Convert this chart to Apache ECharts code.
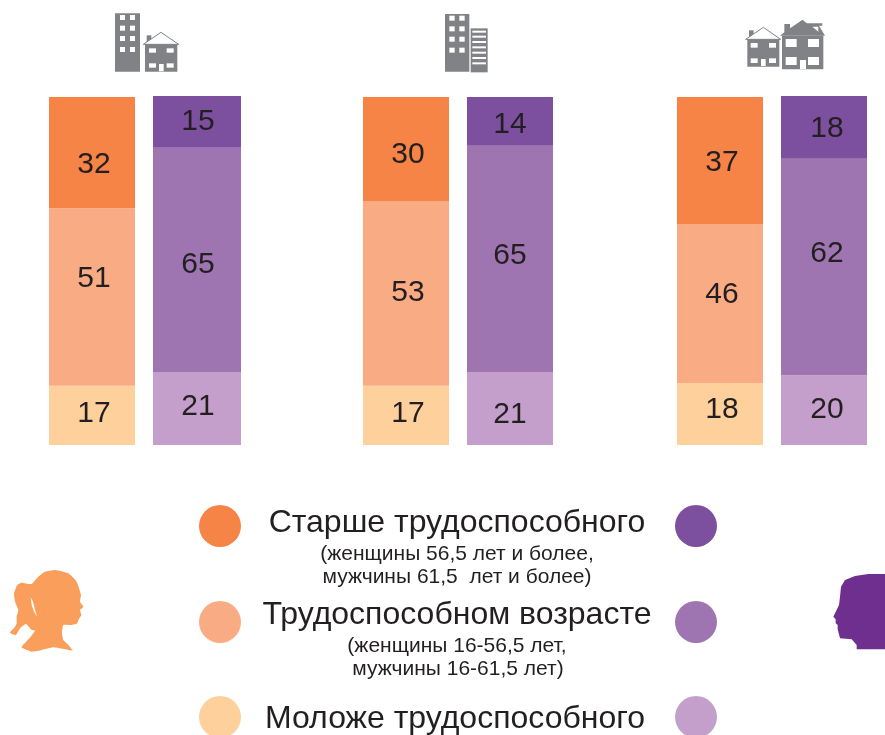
<!DOCTYPE html>
<html>
<head>
<meta charset="utf-8">
<style>
  html, body { margin: 0; padding: 0; background: #fff; overflow: hidden; }
  #chart { width: 885px; height: 735px; }
</style>
</head>
<body>
<div id="chart"></div>
<script src="https://cdn.jsdelivr.net/npm/echarts@6/dist/echarts.min.js"></script>
<script>
// order of each bar: bottom to top
var ageGroups = ["Моложе трудоспособного", "Трудоспособном возрасте", "Старше трудоспособного"];
var women1 = [17, 51, 32];
var men1 = [21, 65, 15];
var women2 = [17, 53, 30];
var men2 = [21, 65, 14];
var women3 = [18, 46, 37];
var men3 = [20, 62, 18];

var legendNotes = {
  older: ["(женщины 56,5 лет и более,", "мужчины 61,5  лет и более)"],
  working: ["(женщины 16-56,5 лет,", "мужчины 16-61,5 лет)"]
};

var orange = ["#FDD09C", "#F9AB84", "#F68446"];
var purple = ["#C59FCB", "#9E75B1", "#7D4F9F"];
var grey = "#808285";
var font = "Liberation Sans";

// bars do not share one axis: every bar fills its own total
// the labels in the source are placed by hand, hence the shifts
var bars = [
  { values: women1, colors: orange, left: 49, width: 86, top: 97, dx: 2, labelShift: [-2, -18, 12] },
  { values: men1, colors: purple, left: 153, width: 88, top: 96, dx: 1, labelShift: [-2, 5, 0] },
  { values: women2, colors: orange, left: 363, width: 86, top: 97, dx: 2, labelShift: [-2, -1, 6] },
  { values: men2, colors: purple, left: 467, width: 86, top: 97, dx: 0, labelShift: [6, -3, 3] },
  { values: women3, colors: orange, left: 677, width: 86, top: 97, dx: 2, labelShift: [-4, -9, 2] },
  { values: men3, colors: purple, left: 781, width: 86, top: 96, dx: 3, labelShift: [0, -13, 1] }
];

var grids = [], xAxes = [], yAxes = [], series = [];
bars.forEach(function (bar, i) {
  grids.push({ left: bar.left, top: bar.top, width: bar.width, height: 445 - bar.top });
  xAxes.push({ gridIndex: i, type: "category", data: [""], show: false });
  yAxes.push({
    gridIndex: i,
    type: "value",
    min: 0,
    max: bar.values[0] + bar.values[1] + bar.values[2],
    show: false
  });
  bar.values.forEach(function (v, j) {
    series.push({
      name: ageGroups[j],
      type: "bar",
      stack: "b" + i,
      xAxisIndex: i,
      yAxisIndex: i,
      barWidth: "100%",
      silent: true,
      data: [v],
      itemStyle: { color: bar.colors[j] },
      label: {
        show: true,
        position: "inside",
        offset: [bar.dx, bar.labelShift[j]],
        color: "#231F20",
        fontFamily: font,
        fontSize: 30
      }
    });
  });
});

function box(ox, oy, x0, y0, x1, y1, color) {
  return {
    type: "rect",
    shape: { x: ox + x0 / 3, y: oy + y0 / 3, width: (x1 - x0) / 3, height: (y1 - y0) / 3 },
    style: { fill: color }
  };
}
function poly(ox, oy, pts, color, stroke, smooth) {
  return {
    type: "polygon",
    shape: { points: pts.map(function (p) { return [ox + p[0] / 3, oy + p[1] / 3]; }), smooth: smooth || 0 },
    style: { fill: color, stroke: stroke || null, lineWidth: stroke ? 1 : 0 }
  };
}
function windows(ox, oy, xs, ys, w, h) {
  var out = [];
  xs.forEach(function (x) {
    ys.forEach(function (y) { out.push(box(ox, oy, x, y, x + w, y + h, "#fff")); });
  });
  return out;
}
function house(ox, oy, x0, x1, top, bottom, apexX, apexY, chim) {
  return [
    box(ox, oy, chim, apexY + 9, chim + 14, top, grey),
    poly(ox, oy, [[x0 - 5, top], [apexX, apexY], [x1 + 4, top]], "#fff", grey),
    box(ox, oy, x0, top, x1, bottom, grey)
  ];
}

var els = [];
// first icon
els.push(box(100, 0, 45, 40, 120, 215, grey));
els = els.concat(windows(100, 0, [60, 90], [45, 77, 108, 141], 15, 15));
els = els.concat(house(100, 0, 135, 232, 133, 215, 183, 97, 140));
els = els.concat(windows(100, 0, [147, 200], [145, 190], 21, 13));
els.push(box(100, 0, 177, 192, 191, 214, "#fff"));
// second icon
els.push(box(430, 0, 45, 42, 118, 215, grey));
els = els.concat(windows(430, 0, [58, 88], [47, 79, 110, 143], 16, 15));
els.push(box(430, 0, 122, 85, 173, 217, grey));
[92, 107, 123, 139, 155, 171, 187].forEach(function (y) {
  els.push(box(430, 0, 127, y, 168, y + 6, "#fff"));
});
// third icon
els = els.concat(house(735, 5, 37, 133, 103, 185, 85, 67, 42));
els = els.concat(windows(735, 5, [47, 102], [114, 160], 21, 14));
els.push(box(735, 5, 78, 162, 92, 183, "#fff"));
els.push(box(735, 5, 141, 92, 265, 193, grey));
els.push(poly(735, 5, [[135, 92], [148, 82], [148, 57], [165, 57], [165, 70], [203, 44], [215, 55], [262, 55], [262, 62], [252, 62], [270, 92]], grey));
els.push(poly(735, 5, [[232, 65], [250, 65], [250, 80]], "#fff"));
els = els.concat(windows(735, 5, [152, 219], [102, 156], 33, 24));
els.push(box(735, 5, 195, 165, 213, 192, "#fff"));

// silhouettes
els.push(poly(0, 560, [
  [135, 35], [165, 30], [205, 40], [230, 65], [243, 105], [240, 125], [250, 140], [240, 150], [244, 165],
  [235, 180], [232, 190], [215, 195], [190, 195], [186, 220], [190, 240], [205, 255], [218, 272], [195, 268],
  [160, 262], [125, 270], [95, 275], [65, 262], [88, 235], [105, 212], [95, 210], [78, 192], [60, 205],
  [48, 225], [30, 218], [45, 200], [50, 190], [50, 170], [55, 150], [45, 125], [42, 100], [52, 75],
  [65, 68], [85, 72], [95, 72], [115, 50]
], "#F99F5B", null, 0.15));
els.push(poly(0, 560, [[92, 112], [99, 125], [105, 150], [112, 172], [102, 155], [95, 135]], "#fff"));
els.push(poly(815, 560, [
  [210, 42], [160, 42], [120, 48], [90, 60], [78, 80], [75, 110], [72, 135], [55, 170], [62, 178], [62, 190],
  [68, 195], [68, 208], [75, 235], [110, 238], [125, 255], [125, 268], [210, 268]
], "#6F2F8E"));

// legend
function circle(x, y, color) {
  return { type: "circle", shape: { cx: x, cy: y, r: 21 }, style: { fill: color } };
}
function label(x, y, text, size) {
  return {
    type: "text",
    x: x,
    y: y,
    style: {
      text: text,
      fill: "#231F20",
      font: size + 'px "' + font + '"',
      align: "center",
      verticalAlign: "middle"
    }
  };
}
[526, 622, 717].forEach(function (y, i) {
  els.push(circle(220, y, orange[2 - i]));
  els.push(circle(696, y, purple[2 - i]));
});
els.push(label(457, 523, ageGroups[2], 32));
els.push(label(457, 554, legendNotes.older[0], 21));
els.push(label(457, 577, legendNotes.older[1], 21));
els.push(label(457, 615, ageGroups[1], 32));
els.push(label(457, 646, legendNotes.working[0], 21));
els.push(label(458, 669, legendNotes.working[1], 21));
els.push(label(455, 719, ageGroups[0], 32));

var chart = echarts.init(document.getElementById("chart"), null, { renderer: "canvas" });
chart.setOption({
  animation: false,
  backgroundColor: "#fff",
  tooltip: { show: false },
  grid: grids,
  xAxis: xAxes,
  yAxis: yAxes,
  series: series,
  graphic: { elements: els }
});
</script>
</body>
</html>
